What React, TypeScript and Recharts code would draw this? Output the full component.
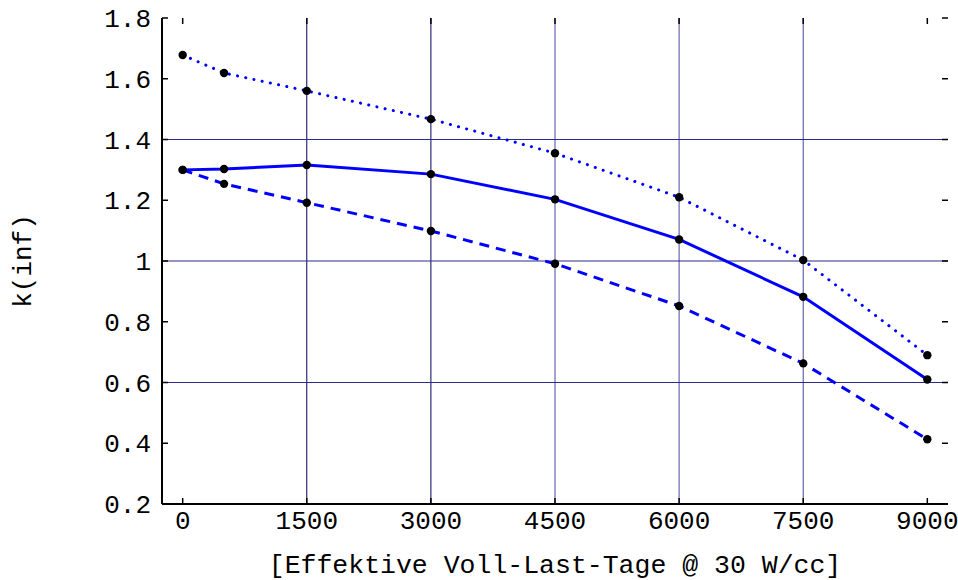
import React from "react";
import {
  LineChart,
  Line,
  XAxis,
  YAxis,
  ReferenceLine,
  Label,
} from "recharts";

// Burnup (effective full-load days at 30 W/cc)
const burnupDays = [0, 500, 1500, 3000, 4500, 6000, 7500, 9000];

// k(inf) for the three cases
const kInfSolid = [1.3, 1.303, 1.316, 1.286, 1.203, 1.071, 0.882, 0.61];
const kInfDashed = [1.3, 1.254, 1.192, 1.099, 0.991, 0.852, 0.663, 0.413];
const kInfDotted = [1.678, 1.619, 1.56, 1.467, 1.355, 1.21, 1.003, 0.69];

const xTicks = [0, 1500, 3000, 4500, 6000, 7500, 9000];
const yTicks = [0.2, 0.4, 0.6, 0.8, 1, 1.2, 1.4, 1.6, 1.8];
const yTickLabels = ["0.2", "0.4", "0.6", "0.8", "1", "1.2", "1.4", "1.6", "1.8"];

const xGridDark = [1500, 3000];
const xGridLight = [4500, 6000, 7500];
const yGrid = [0.6, 1, 1.4];

const data = burnupDays.map((d, i) => ({
  x: d,
  solid: kInfSolid[i],
  dashed: kInfDashed[i],
  dotted: kInfDotted[i],
}));

const W = 958;
const H = 580;
const PLOT_LEFT = 162;
const PLOT_TOP = 18;
const PLOT_RIGHT = 948;
const PLOT_BOTTOM = 504;
const TICK_LEN = 6;
const FONT = "'Liberation Mono', 'DejaVu Sans Mono', monospace";
const FS = 26;

const XTick = (props: any) => {
  const { x, payload } = props;
  return (
    <g>
      <line x1={x} x2={x} y1={PLOT_BOTTOM} y2={PLOT_BOTTOM - TICK_LEN} stroke="#000" strokeWidth={1.5} />
      <line x1={x} x2={x} y1={PLOT_TOP} y2={PLOT_TOP + TICK_LEN} stroke="#000" strokeWidth={1.5} />
      <text x={x} y={529} textAnchor="middle" fontFamily={FONT} fontSize={FS} fill="#000">
        {String(payload.value)}
      </text>
    </g>
  );
};

const YTick = (props: any) => {
  const { y, payload, index } = props;
  const label = yTickLabels[index] ?? String(payload.value);
  return (
    <g>
      <line x1={PLOT_LEFT} x2={PLOT_LEFT + TICK_LEN} y1={y} y2={y} stroke="#000" strokeWidth={1.5} />
      <line x1={PLOT_RIGHT} x2={PLOT_RIGHT - TICK_LEN} y1={y} y2={y} stroke="#000" strokeWidth={1.5} />
      <text x={151} y={y} dy={9} textAnchor="end" fontFamily={FONT} fontSize={FS} fill="#000">
        {label}
      </text>
    </g>
  );
};

const Dot = (props: any) => {
  const { cx, cy } = props;
  return <circle cx={cx} cy={cy} r={4.2} fill="#000" />;
};

const axisLine = { stroke: "#000", strokeWidth: 2 };

export default function App() {
  return (
    <div style={{ position: "absolute", left: 0, top: 0, width: W, height: H, background: "#fff" }}>
      <LineChart
        width={W}
        height={H}
        data={data}
        margin={{ top: PLOT_TOP, right: W - PLOT_RIGHT, bottom: 0, left: 0 }}
      >
        <XAxis
          dataKey="x"
          type="number"
          domain={[-250, 9250]}
          ticks={xTicks}
          height={H - PLOT_BOTTOM}
          axisLine={axisLine}
          tickLine={false}
          tick={<XTick />}
          interval={0}
        >
          <Label
            value="[Effektive Voll-Last-Tage @ 30 W/cc]"
            position="insideBottom"
            offset={7}
            style={{ fontFamily: FONT, fontSize: 26.5, fill: "#000" }}
          />
        </XAxis>
        <XAxis
          xAxisId="top"
          orientation="top"
          type="number"
          domain={[-250, 9250]}
          height={0}
          axisLine={axisLine}
          tickLine={false}
          tick={false}
        />
        <YAxis
          type="number"
          domain={[0.2, 1.8]}
          ticks={yTicks}
          width={PLOT_LEFT}
          axisLine={axisLine}
          tickLine={false}
          tick={<YTick />}
          interval={0}
        >
          <Label
            value="k(inf)"
            angle={-90}
            position="insideLeft"
            offset={22}
            style={{ fontFamily: FONT, fontSize: FS, fill: "#000", textAnchor: "middle" }}
          />
        </YAxis>
        <YAxis
          yAxisId="right"
          orientation="right"
          type="number"
          domain={[0.2, 1.8]}
          width={0}
          axisLine={axisLine}
          tickLine={false}
          tick={false}
        />

        {xGridDark.map((v) => (
          <ReferenceLine key={"xd" + v} x={v} stroke="#00005a" strokeWidth={1} ifOverflow="visible" />
        ))}
        {xGridLight.map((v) => (
          <ReferenceLine key={"xl" + v} x={v} stroke="#4848a4" strokeWidth={1} ifOverflow="visible" />
        ))}
        {yGrid.map((v) => (
          <ReferenceLine key={"y" + v} y={v} stroke="#2a2a88" strokeWidth={1} ifOverflow="visible" />
        ))}

        <Line
          dataKey="dotted"
          stroke="#0000ff"
          strokeWidth={3}
          strokeDasharray="0.1 8.3"
          strokeLinecap="round"
          dot={<Dot />}
          activeDot={false}
          isAnimationActive={false}
          type="linear"
        />
        <Line
          dataKey="dashed"
          stroke="#0000ff"
          strokeWidth={3}
          strokeDasharray="10 7"
          dot={<Dot />}
          activeDot={false}
          isAnimationActive={false}
          type="linear"
        />
        <Line
          dataKey="solid"
          stroke="#0000ff"
          strokeWidth={3}
          dot={<Dot />}
          activeDot={false}
          isAnimationActive={false}
          type="linear"
        />
      </LineChart>
    </div>
  );
}
